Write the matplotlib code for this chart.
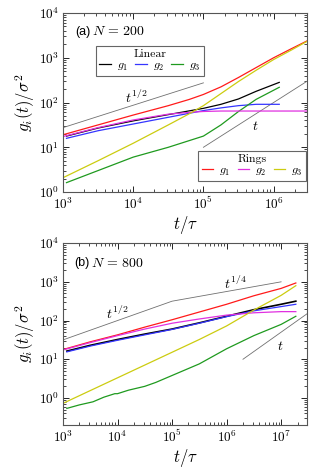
import numpy as np
import matplotlib
matplotlib.use("Agg")
import matplotlib.pyplot as plt
from matplotlib.lines import Line2D
from matplotlib.ticker import LogLocator, NullFormatter

plt.rcParams["mathtext.fontset"] = "cm"
plt.rcParams["font.family"] = "serif"
plt.rcParams["font.serif"] = ["cmr10", "DejaVu Serif"]
plt.rcParams["axes.formatter.use_mathtext"] = True
plt.rcParams["axes.unicode_minus"] = False

# panel (a) N=200, values as log10 exponents
a_lin_t = [3.05, 3.5, 4.0, 4.5, 5.0, 5.25, 5.5, 5.75, 6.08]
a_lin_g1 = [1.25, 1.43, 1.59, 1.73, 1.87, 1.96, 2.08, 2.25, 2.45]
a_lin_g2 = [1.20, 1.37, 1.52, 1.67, 1.82, 1.88, 1.93, 1.96, 1.96]
a_lin_g3 = [0.21, 0.48, 0.78, 1.00, 1.25, 1.50, 1.80, 2.07, 2.34]

a_ring_t = [3.0, 3.5, 4.0, 4.5, 4.8, 5.0, 5.25, 5.5, 5.75, 6.0, 6.25, 6.48]
a_ring_g1 = [1.28, 1.50, 1.72, 1.93, 2.07, 2.18, 2.35, 2.56, 2.78, 3.00, 3.20, 3.38]
a_ring_g2 = [1.24, 1.44, 1.61, 1.74, 1.78, 1.80, 1.81, 1.81, 1.81, 1.81, 1.81, 1.81]
a_ring_g3 = [0.32, 0.70, 1.09, 1.50, 1.75, 1.93, 2.20, 2.47, 2.72, 2.96, 3.17, 3.37]

# panel (b) N=800
b_lin_t = [3.07, 3.5, 4.0, 4.5, 5.0, 5.5, 6.0, 6.5, 7.0, 7.27]
b_lin_g1 = [1.21, 1.36, 1.51, 1.65, 1.78, 1.94, 2.11, 2.28, 2.42, 2.50]
b_lin_g2 = [1.19, 1.34, 1.49, 1.63, 1.77, 1.93, 2.10, 2.25, 2.36, 2.42]
b_g3_t = [3.07, 3.3, 3.55, 3.75, 3.95, 4.0, 4.2, 4.5, 4.7, 5.0, 5.5, 6.0, 6.5, 7.0, 7.27]
b_lin_g3 = [-0.27, -0.18, -0.10, 0.02, 0.11, 0.11, 0.20, 0.30, 0.40, 0.58, 0.88, 1.27, 1.61, 1.90, 2.11]

b_ring_t = [3.0, 3.5, 4.0, 4.5, 5.0, 5.5, 6.0, 6.5, 7.0, 7.27]
b_ring_g1 = [1.25, 1.45, 1.63, 1.83, 2.02, 2.22, 2.42, 2.64, 2.83, 2.97]
b_ring_g2 = [1.24, 1.43, 1.61, 1.78, 1.93, 2.04, 2.14, 2.20, 2.23, 2.23]
b_ring_g3 = [-0.14, 0.19, 0.52, 0.85, 1.18, 1.51, 1.86, 2.27, 2.65, 2.90]

# guide lines (t, g)
a_half_t, a_half_g = [1e3, 1e5], [27.5, 275]
a_one_t, a_one_g = [1e5, 3e6], [10, 300]
b_guide_t, b_guide_g = [1e3, 1e5, 1e7], [31.6, 316, 1000]
b_one_t, b_one_g = [2e6, 3e7], [10, 150]

C_BLACK, C_BLUE, C_GREEN = "black", "#3535ff", "#1f9a1f"
C_RED, C_MAG, C_YEL = "#ff1a1a", "#e030e0", "#cccc10"
GRAY = "#707070"
LW = 0.9


def p(v):
    return np.power(10.0, v)


def style_axes(ax, xmax, ymin):
    ax.set_xscale("log")
    ax.set_yscale("log")
    ax.set_xlim(1e3, xmax)
    ax.set_ylim(ymin, 1e4)
    ax.xaxis.set_major_locator(LogLocator(base=10, numticks=20))
    ax.xaxis.set_minor_locator(LogLocator(base=10, subs=np.arange(2, 10), numticks=20))
    ax.yaxis.set_major_locator(LogLocator(base=10, numticks=20))
    ax.yaxis.set_minor_locator(LogLocator(base=10, subs=np.arange(2, 10), numticks=20))
    ax.xaxis.set_minor_formatter(NullFormatter())
    ax.yaxis.set_minor_formatter(NullFormatter())
    ax.tick_params(which="both", direction="in", top=True, right=True, labelsize=9.5)
    ax.tick_params(which="major", length=4.5, width=0.6, pad=3)
    ax.tick_params(which="minor", length=2.2, width=0.5)
    for s in ax.spines.values():
        s.set_color("#555555")
        s.set_linewidth(0.8)
    ax.set_xlabel(r"$t/\tau$", fontsize=12, labelpad=1)
    ax.set_ylabel(r"$g_i(t)/\sigma^2$", fontsize=12, labelpad=1)


fig = plt.figure(figsize=(3.15, 4.73), dpi=100)
ax1 = fig.add_axes([0.2, 0.594, 0.775, 0.3785])
ax2 = fig.add_axes([0.2, 0.1015, 0.775, 0.3845])

# ---- panel (a)
ax1.plot(a_half_t, a_half_g, color=GRAY, lw=0.6)
ax1.plot(a_one_t, a_one_g, color=GRAY, lw=0.6)
ax1.plot(p(a_lin_t), p(a_lin_g1), color=C_BLACK, lw=LW)
ax1.plot(p(a_lin_t), p(a_lin_g2), color=C_BLUE, lw=LW)
ax1.plot(p(a_lin_t), p(a_lin_g3), color=C_GREEN, lw=LW)
ax1.plot(p(a_ring_t), p(a_ring_g1), color=C_RED, lw=LW)
ax1.plot(p(a_ring_t), p(a_ring_g2), color=C_MAG, lw=LW)
ax1.plot(p(a_ring_t), p(a_ring_g3), color=C_YEL, lw=LW)
style_axes(ax1, 3e6, 1.0)
ax1.text(1.1e4, 1.3e2, r"$t^{1/2}$", fontsize=10, ha="center", va="center")
ax1.text(5.4e5, 2.9e1, r"$t$", fontsize=10, ha="center", va="center")
ax1.text(0.05, 0.894, "(a)", transform=ax1.transAxes, fontsize=9,
         family="Liberation Sans", va="center")
ax1.text(0.12, 0.894, r"$N\,=\,200$", transform=ax1.transAxes, fontsize=10, va="center")


def make_legend(ax, colors, title, loc, anchor):
    handles = [Line2D([], [], color=c, lw=LW) for c in colors]
    labels = [r"$g_1$", r"$g_2$", r"$g_3$"]
    leg = ax.legend(handles, labels, title=title, ncol=3, loc=loc,
                    bbox_to_anchor=anchor, fontsize=8.5, title_fontsize=8.5,
                    handlelength=1.0, handletextpad=0.5, columnspacing=0.6,
                    borderpad=0.3, labelspacing=0.1, fancybox=False, framealpha=1,
                    edgecolor="#666666", borderaxespad=0)
    leg.get_frame().set_linewidth(0.8)
    return leg


leg1 = make_legend(ax1, [C_BLACK, C_BLUE, C_GREEN], "Linear", "upper left", (0.135, 0.815))
ax1.add_artist(leg1)
make_legend(ax1, [C_RED, C_MAG, C_YEL], "Rings", "lower right", (0.996, 0.061))

# ---- panel (b)
ax2.plot(b_guide_t, b_guide_g, color=GRAY, lw=0.6)
ax2.plot(b_one_t, b_one_g, color=GRAY, lw=0.6)
ax2.plot(p(b_lin_t), p(b_lin_g1), color=C_BLACK, lw=1.2)
ax2.plot(p(b_lin_t), p(b_lin_g2), color=C_BLUE, lw=LW)
ax2.plot(p(b_g3_t), p(b_lin_g3), color=C_GREEN, lw=LW)
ax2.plot(p(b_ring_t), p(b_ring_g1), color=C_RED, lw=LW)
ax2.plot(p(b_ring_t), p(b_ring_g2), color=C_MAG, lw=LW)
ax2.plot(p(b_ring_t), p(b_ring_g3), color=C_YEL, lw=LW)
style_axes(ax2, 3e7, 0.2)
ax2.text(1e4, 1.5e2, r"$t^{1/2}$", fontsize=10, ha="center", va="center")
ax2.text(1.45e6, 9e2, r"$t^{1/4}$", fontsize=10, ha="center", va="center")
ax2.text(9.5e6, 2.1e1, r"$t$", fontsize=10, ha="center", va="center")
ax2.text(0.045, 0.89, "(b)", transform=ax2.transAxes, fontsize=9,
         family="Liberation Sans", va="center")
ax2.text(0.115, 0.89, r"$N\,=\,800$", transform=ax2.transAxes, fontsize=10, va="center")

fig.savefig("out.png", dpi=100)
